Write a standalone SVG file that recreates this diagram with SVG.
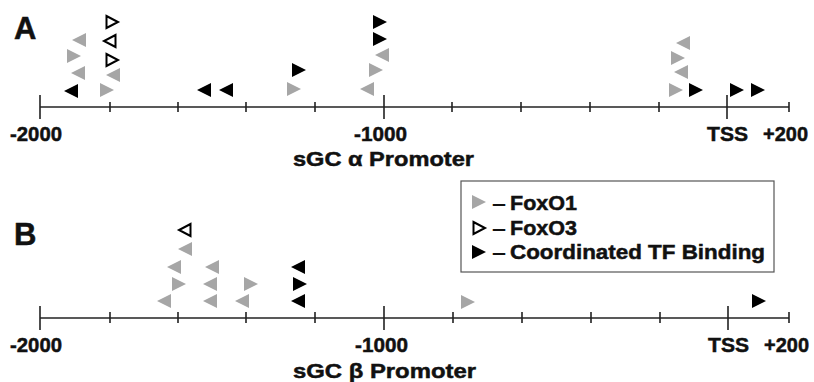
<svg xmlns="http://www.w3.org/2000/svg" xmlns:xlink="http://www.w3.org/1999/xlink" width="814" height="382" viewBox="0 0 814 382">
<style>
.t{font-family:"Liberation Sans",Arial,sans-serif;font-weight:bold;fill:#111;stroke:#111;stroke-width:0.5}
.ax{font-size:21px}
.pl{font-size:31px}
.lg{font-size:21px}
.axis{stroke:#222;stroke-width:1.6;fill:none}
.g{fill:#a6a6a6}
.k{fill:#000}
.o{fill:#fff;stroke:#000;stroke-width:2;stroke-linejoin:miter}
</style>
<defs>
<polygon id="R" points="-7,-7 7,0 -7,7"/>
<polygon id="L" points="7,-7 -7,0 7,7"/>
<polygon id="oR" points="-5.5,-6 6,0 -5.5,6"/>
<polygon id="oL" points="5.5,-6 -6,0 5.5,6"/>
</defs>
<rect width="814" height="382" fill="#fff"/>

<g id="panelA">
<text class="t pl" x="14" y="39">A</text>
<g id="axisA" class="axis">
<line x1="40" y1="107" x2="789" y2="107"/>
<path d="M40,95V119M384,95V119M727,95V119M110,102V112M178,102V112M246,102V112M315,102V112M452,102V112M521,102V112M590,102V112M659,102V112M789,102V112"/>
</g>
<text class="t ax" x="10" y="141" textLength="52" lengthAdjust="spacingAndGlyphs">-2000</text>
<text class="t ax" x="354" y="141" textLength="53" lengthAdjust="spacingAndGlyphs">-1000</text>
<text class="t ax" x="707" y="141" textLength="41" lengthAdjust="spacingAndGlyphs">TSS</text>
<text class="t ax" x="763" y="141" textLength="45" lengthAdjust="spacingAndGlyphs">+200</text>
<text class="t ax" x="293" y="166" textLength="181" lengthAdjust="spacingAndGlyphs">sGC α Promoter</text>
<g id="sitesA">
<use href="#L" class="k" x="71" y="91"/>
<use href="#L" class="g" x="78" y="73"/>
<use href="#R" class="g" x="74" y="56"/>
<use href="#L" class="g" x="79" y="40"/>
<use href="#R" class="g" x="107" y="90"/>
<use href="#L" class="g" x="113" y="75"/>
<use href="#oR" class="o" x="112" y="60"/>
<use href="#oL" class="o" x="110" y="41"/>
<use href="#oR" class="o" x="112" y="22"/>
<use href="#L" class="k" x="204" y="90"/>
<use href="#L" class="k" x="226" y="90"/>
<use href="#R" class="g" x="294" y="89"/>
<use href="#R" class="k" x="299" y="70"/>
<use href="#L" class="g" x="367" y="89"/>
<use href="#R" class="g" x="376" y="70"/>
<use href="#L" class="g" x="382" y="55"/>
<use href="#R" class="k" x="380" y="39"/>
<use href="#R" class="k" x="380" y="22"/>
<use href="#L" class="g" x="683" y="43"/>
<use href="#R" class="g" x="678" y="58"/>
<use href="#L" class="g" x="681" y="72"/>
<use href="#R" class="g" x="676" y="90"/>
<use href="#R" class="k" x="696" y="90"/>
<use href="#R" class="k" x="737" y="90"/>
<use href="#R" class="k" x="758" y="90"/>
</g>
</g>

<g id="legend">
<rect x="461" y="181" width="313" height="91" fill="#fff" stroke="#555" stroke-width="1.2"/>
<use href="#R" class="g" x="479" y="202"/>
<use href="#oR" class="o" x="479" y="228"/>
<use href="#R" class="k" x="479" y="252"/>
<text class="t lg" x="492" y="210" textLength="14" lengthAdjust="spacingAndGlyphs" style="stroke-width:0">–</text>
<text class="t lg" x="492" y="235" textLength="14" lengthAdjust="spacingAndGlyphs" style="stroke-width:0">–</text>
<text class="t lg" x="492" y="259" textLength="14" lengthAdjust="spacingAndGlyphs" style="stroke-width:0">–</text>
<text class="t lg" x="510" y="210" textLength="67" lengthAdjust="spacingAndGlyphs">FoxO1</text>
<text class="t lg" x="510" y="235" textLength="67" lengthAdjust="spacingAndGlyphs">FoxO3</text>
<text class="t lg" x="510" y="259" textLength="255" lengthAdjust="spacingAndGlyphs">Coordinated TF Binding</text>
</g>

<g id="panelB">
<text class="t pl" x="14" y="245">B</text>
<g id="axisB" class="axis">
<line x1="40" y1="318" x2="789" y2="318"/>
<path d="M40,306V330M384,306V330M728,306V330M110,312V323M178,312V323M246,312V323M315,312V323M453,312V323M522,312V323M591,312V323M660,312V323M789,312V323"/>
</g>
<text class="t ax" x="10" y="352" textLength="52" lengthAdjust="spacingAndGlyphs">-2000</text>
<text class="t ax" x="355" y="352" textLength="53" lengthAdjust="spacingAndGlyphs">-1000</text>
<text class="t ax" x="708" y="352" textLength="41" lengthAdjust="spacingAndGlyphs">TSS</text>
<text class="t ax" x="764" y="352" textLength="45" lengthAdjust="spacingAndGlyphs">+200</text>
<text class="t ax" x="293" y="378" textLength="183" lengthAdjust="spacingAndGlyphs">sGC β Promoter</text>
<g id="sitesB">
<use href="#oL" class="o" x="185" y="230"/>
<use href="#L" class="g" x="185" y="249"/>
<use href="#L" class="g" x="174" y="267"/>
<use href="#R" class="g" x="179" y="284"/>
<use href="#L" class="g" x="164" y="301"/>
<use href="#L" class="g" x="212" y="267"/>
<use href="#L" class="g" x="210" y="284"/>
<use href="#L" class="g" x="210" y="301"/>
<use href="#R" class="g" x="251" y="284"/>
<use href="#L" class="g" x="242" y="301"/>
<use href="#L" class="k" x="298" y="267"/>
<use href="#R" class="k" x="300" y="284"/>
<use href="#L" class="k" x="298" y="301"/>
<use href="#R" class="g" x="468" y="302"/>
<use href="#R" class="k" x="759" y="301"/>
</g>
</g>
</svg>
